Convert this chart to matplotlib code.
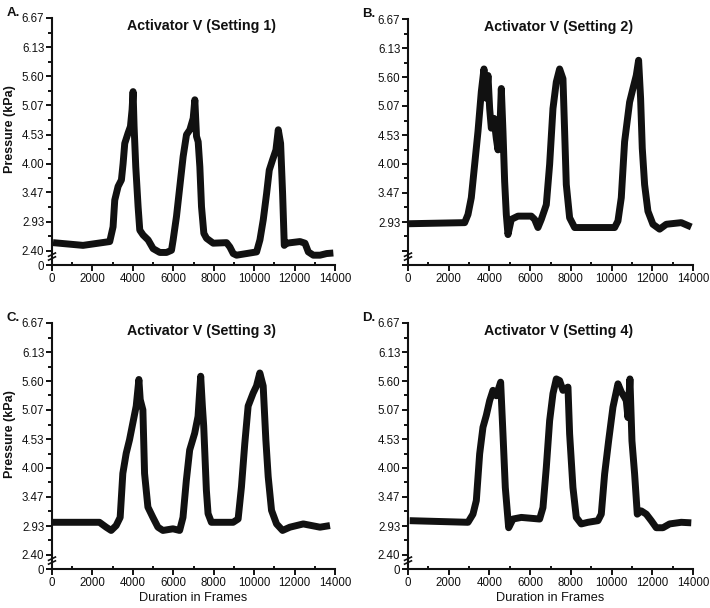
import matplotlib
matplotlib.use("Agg")
import matplotlib.pyplot as plt
import matplotlib.transforms as mtransforms

plt.rcParams["font.family"] = ["Liberation Sans", "DejaVu Sans"]

# ── Traces (frame, kPa) ─────────────────────────────────────────────────
frames_1 = [50, 1535, 2856, 3021, 3104, 3269, 3434, 3517, 3599, 3764, 3880, 3962, 4011,
            4061, 4144, 4259, 4342, 4507, 4755, 5003, 5333, 5663, 5911, 5993, 6158, 6323,
            6488, 6654, 6819, 6984, 7066, 7149, 7231, 7314, 7396, 7512, 7644, 7974, 8635,
            8800, 8965, 9130, 9625, 10121, 10286, 10451, 10616, 10748, 10913, 11078, 11194,
            11309, 11408, 11491, 11606, 12267, 12515, 12680, 12927, 13257, 13588, 13918]
kpa_1 = [2.55, 2.50, 2.57, 2.84, 3.33, 3.58, 3.70, 4.00, 4.37, 4.56, 4.68, 4.99, 5.32,
         4.68, 3.94, 3.21, 2.78, 2.69, 2.60, 2.44, 2.37, 2.37, 2.41, 2.60, 3.03, 3.58,
         4.13, 4.53, 4.62, 4.83, 5.17, 4.50, 4.40, 3.94, 3.21, 2.72, 2.63, 2.54, 2.55,
         2.47, 2.35, 2.32, 2.35, 2.38, 2.60, 2.97, 3.45, 3.88, 4.07, 4.25, 4.62,
         4.37, 3.45, 2.50, 2.54, 2.57, 2.54, 2.38, 2.32, 2.32, 2.35, 2.36]

frames_2 = [49, 2783, 2947, 3110, 3274, 3438, 3601, 3732, 3847, 3929, 4011, 4093, 4223,
            4338, 4420, 4502, 4584, 4665, 4747, 4829, 4911, 5075, 5402, 6057, 6221, 6384,
            6548, 6794, 6957, 7121, 7285, 7448, 7612, 7694, 7776, 7939, 8185, 8840, 10149,
            10313, 10477, 10640, 10886, 11050, 11213, 11328, 11426, 11508, 11623, 11786,
            12032, 12360, 12687, 13423, 13915]
kpa_2 = [2.90, 2.92, 3.07, 3.38, 3.99, 4.60, 5.33, 5.75, 5.21, 5.63, 5.02, 4.66, 4.84,
         4.47, 4.26, 4.53, 5.39, 4.60, 3.68, 3.07, 2.70, 2.98, 3.04, 3.04, 2.98, 2.83,
         2.98, 3.25, 3.99, 5.02, 5.51, 5.75, 5.57, 4.60, 3.62, 3.01, 2.83, 2.83, 2.83,
         2.95, 3.38, 4.41, 5.14, 5.39, 5.63, 5.91, 5.21, 4.29, 3.62, 3.13,
         2.89, 2.80, 2.89, 2.92, 2.84]

frames_3 = [33, 2347, 2678, 2926, 3174, 3372, 3504, 3670, 3835, 4000, 4166, 4298, 4364,
            4496, 4579, 4744, 4992, 5240, 5488, 5984, 6314, 6480, 6645, 6810, 7058, 7224,
            7356, 7439, 7505, 7637, 7720, 7885, 8959, 9207, 9372, 9537, 9703, 9951, 10116,
            10281, 10447, 10579, 10695, 10860, 11108, 11406, 11769, 12431, 13257, 13753]
kpa_3 = [3.00, 3.00, 2.91, 2.85, 2.94, 3.09, 3.90, 4.27, 4.52, 4.83, 5.14, 5.63, 5.26,
         5.07, 3.90, 3.28, 3.09, 2.91, 2.85, 2.88, 2.85, 3.09, 3.77, 4.33, 4.64, 4.95,
         5.69, 5.14, 4.77, 3.59, 3.16, 3.00, 3.00, 3.06, 3.65, 4.45, 5.14, 5.38, 5.51,
         5.75, 5.51, 4.52, 3.84, 3.22, 2.97, 2.85, 2.91, 2.97, 2.91, 2.94]

frames_4 = [82, 2947, 3192, 3356, 3520, 3683, 3847, 4011, 4174, 4338, 4551, 4665, 4780,
            4944, 5157, 5566, 6466, 6630, 6794, 6957, 7121, 7285, 7448, 7612, 7858, 7939,
            8103, 8267, 8512, 8840, 9331, 9495, 9659, 9855, 10068, 10313, 10477, 10640,
            10722, 10804, 10902, 11001, 11132, 11263, 11459, 11705, 11950, 12196, 12524,
            12851, 13423, 13915]
kpa_4 = [3.03, 3.00, 3.15, 3.40, 4.26, 4.75, 4.97, 5.24, 5.43, 5.33, 5.58, 4.63, 3.64,
         2.90, 3.06, 3.09, 3.06, 3.27, 4.01, 4.87, 5.37, 5.64, 5.61, 5.43, 5.49, 4.63,
         3.64, 3.09, 2.97, 3.00, 3.03, 3.15, 3.89, 4.50, 5.12, 5.55, 5.40, 5.30,
         5.24, 4.93, 5.64, 4.50, 3.89, 3.15, 3.21, 3.15, 3.03, 2.90, 2.90,
         2.97, 3.00, 2.99]

panel_letters = ["A.", "B.", "C.", "D."]
titles = ["Activator V (Setting 1)", "Activator V (Setting 2)",
          "Activator V (Setting 3)", "Activator V (Setting 4)"]
ytick_values = [2.40, 2.93, 3.47, 4.00, 4.53, 5.07, 5.60, 6.13, 6.67]
ytick_labels = ["2.40", "2.93", "3.47", "4.00", "4.53", "5.07", "5.60", "6.13", "6.67"]
xticks = [0, 2000, 4000, 6000, 8000, 10000, 12000, 14000]

W, H = 710, 608
Y_BOTTOM = 2.14  # where the broken axis puts "0"
INK = "#111111"


def px_box(left, top, right, bottom):
    return [left / W, 1 - bottom / H, (right - left) / W, (bottom - top) / H]


fig = plt.figure(figsize=(W / 100, H / 100), dpi=100)
boxes = [px_box(52, 18, 335, 265), px_box(408, 19, 693, 265),
         px_box(52, 323, 335, 569), px_box(408, 323, 693, 569)]
series = [(frames_1, kpa_1), (frames_2, kpa_2), (frames_3, kpa_3), (frames_4, kpa_4)]

for i, (box, (fx, ky)) in enumerate(zip(boxes, series)):
    ax = fig.add_axes(box)
    ax.plot(fx, ky, color=INK, linewidth=5, solid_joinstyle="round",
            solid_capstyle="butt")
    ax.set_xlim(0, 14000)
    ax.set_ylim(Y_BOTTOM, 6.67)

    for side in ["top", "right"]:
        ax.spines[side].set_visible(False)
    for side in ["left", "bottom"]:
        ax.spines[side].set_linewidth(1.5)
        ax.spines[side].set_color(INK)

    # y ticks: fake "0" at the bottom plus the real scale above the break
    if i == 1:
        labels = ["", ""] + ytick_labels[1:]
    else:
        labels = ["0"] + ytick_labels
    ax.set_yticks([Y_BOTTOM] + ytick_values)
    ax.set_yticklabels(labels)
    minor_y = [(a + b) / 2 for a, b in zip(ytick_values[:-1], ytick_values[1:])]
    ax.set_yticks(minor_y, minor=True)
    ax.set_xticks(xticks)
    ax.set_xticks([1000, 3000, 5000, 7000, 9000, 11000, 13000], minor=True)
    ax.tick_params(axis="both", which="major", labelsize=8.3, width=1.4, length=4,
                   pad=1.5, colors=INK)
    ax.tick_params(axis="y", which="minor", width=1.4, length=3, color=INK)
    ax.tick_params(axis="x", which="minor", width=1.4, length=2.5, direction="in",
                   color=INK)
    ax.tick_params(axis="x", which="major", pad=2)

    # axis-break marks on the y spine
    trans = mtransforms.blended_transform_factory(ax.transAxes, ax.transData)
    for dy in (0.0, 0.07):
        ax.plot([-0.012, 0.012], [2.23 + dy, 2.29 + dy], color=INK,
                linewidth=1.2, transform=trans, clip_on=False)

    ax.text(0.53, 0.995, titles[i], transform=ax.transAxes, ha="center", va="top",
            fontsize=10.3, fontweight="bold", color=INK)
    ax.text(-0.16, 1.045, panel_letters[i], transform=ax.transAxes, ha="left",
            va="top", fontsize=9.5, fontweight="bold", color=INK)

    if i in (0, 2):
        ax.set_ylabel("Pressure (kPa)", fontsize=9, fontweight="bold", color=INK)
        ax.yaxis.set_label_coords(-0.128, 0.55)
    if i in (2, 3):
        ax.set_xlabel("Duration in Frames", fontsize=9.2, color=INK, labelpad=2)

fig.savefig("out.png", dpi=100)
